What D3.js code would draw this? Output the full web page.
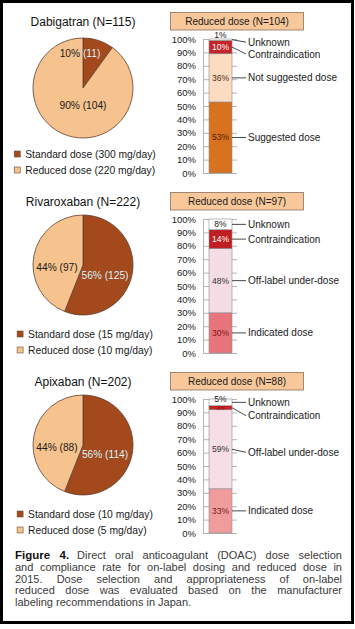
<!DOCTYPE html>
<html><head><meta charset="utf-8">
<script src="https://cdn.jsdelivr.net/npm/d3@7"></script>
<style>
body{margin:0;background:#fff;}
#wrap{position:relative;width:355px;height:629px;overflow:hidden;background:#fff;}
svg{position:absolute;left:0;top:0;}
.cap{position:absolute;left:15px;width:327px;font-family:"Liberation Sans",Arial,sans-serif;font-size:11px;color:#3a3a3a;white-space:nowrap;text-align:justify;text-align-last:justify;line-height:12px;}
.cap.last{text-align-last:left;}
.cap b{color:#111;margin-right:8px;font-size:11.5px;}
</style></head><body><div id="wrap"></div>
<script>
// ---------- DATA ----------
const drugs = ["Dabigatran", "Rivaroxaban", "Apixaban"];
const totalN = [115, 222, 202];
const standardDose = ["300 mg/day", "15 mg/day", "10 mg/day"];
const reducedDose = ["220 mg/day", "10 mg/day", "5 mg/day"];
const standardPct = [10, 56, 56];
const standardCount = [11, 125, 114];
const reducedPct = [90, 44, 44];
const reducedCount = [104, 97, 88];
const reducedN = [104, 97, 88];
const dabigatranCategories = ["Suggested dose", "Not suggested dose", "Contraindication", "Unknown"];
const dabigatranValues = [53, 36, 10, 1];
const rivaroxabanCategories = ["Indicated dose", "Off-label under-dose", "Contraindication", "Unknown"];
const rivaroxabanValues = [30, 48, 14, 8];
const apixabanCategories = ["Indicated dose", "Off-label under-dose", "Contraindication", "Unknown"];
const apixabanValues = [33, 59, 3, 5];
const yTickValues = [0, 10, 20, 30, 40, 50, 60, 70, 80, 90, 100];
const captionLead = "Figure 4.";
const captionLines = [
  "Direct oral anticoagulant (DOAC) dose selection",
  "and compliance rate for on-label dosing and reduced dose in",
  "2015. Dose selection and appropriateness of on-label",
  "reduced dose was evaluated based on the manufacturer",
  "labeling recommendations in Japan."
];

// ---------- STYLE / LAYOUT ----------
const FONT = '"Liberation Sans", Arial, Helvetica, sans-serif';
const pieColors = ["#a3491b", "#f6c38f"];
const barColors = [
  ["#d9721f", "#fbdcc0", "#c3252a", "#ffffff"],
  ["#e8757b", "#f5dde5", "#bf1f23", "#ffffff"],
  ["#f19c9c", "#f5dee6", "#c92220", "#ffffff"]
];
const barLabelColors = [
  ["#4a2205", "#4a3020", "#ffffff", "#222"],
  ["#7a1518", "#333333", "#ffffff", "#222"],
  ["#7a1518", "#333333", "#8a0f10", "#222"]
];
const innerLabelSize = [[8.5, 8.5, 8.5, 8.5], [8.5, 8.5, 8.5, 8.5], [8.5, 8.5, 5.5, 8.5]];
const panelY = [0, 180, 360];
const pieCx = 83, pieR = 50;
const pieCyRel = [88, 85, 85];
const pieLabelOff = [[[-3, -35], [0, 17]], [[22, 10], [-26, 2]], [[22, 9], [-26, 2]]];
const innerLabelDy = [[0, 0, 0, -4.5], [0, 0, 0, 0], [0, 0, 0.5, -3]];
const calloutDy = [[0, 0, 7, 2.5], [0, 0, 0, 0], [0, 3, 8, 0]];
const axisX = 203, barX0 = 209, barX1 = 232, tickX1 = 237, calloutX = 248;

const barCats = [dabigatranCategories, rivaroxabanCategories, apixabanCategories];
const barVals = [dabigatranValues, rivaroxabanValues, apixabanValues];

const wrap = d3.select("#wrap");
const svg = wrap.append("svg").attr("width", 355).attr("height", 629)
  .style("font-family", FONT);
const defs = svg.append("defs");

drugs.forEach((drug, i) => {
  const y0 = panelY[i];
  const g = svg.append("g");

  // title
  g.append("text").attr("x", pieCx).attr("y", y0 + 22).attr("dy", "0.35em")
    .attr("text-anchor", "middle").attr("font-size", 12).attr("fill", "#111")
    .text(`${drug} (N=${totalN[i]})`);

  // pie
  const cy = y0 + pieCyRel[i];
  const pieData = [
    {pct: standardPct[i], n: standardCount[i]},
    {pct: reducedPct[i], n: reducedCount[i]}
  ];
  const arcs = d3.pie().sort(null).value(d => d.pct)(pieData);
  const arcGen = d3.arc().innerRadius(0).outerRadius(pieR);
  const pg = g.append("g").attr("transform", `translate(${pieCx},${cy})`);
  pg.selectAll("path").data(arcs).join("path")
    .attr("d", arcGen).attr("fill", (d, k) => pieColors[k])
    .attr("stroke", "#5e4030").attr("stroke-width", 0.8);
  const clipId = "clipStd" + i;
  defs.append("clipPath").attr("id", clipId).append("path")
    .attr("transform", `translate(${pieCx},${cy})`).attr("d", arcGen(arcs[0]));
  arcs.forEach((a, k) => {
    const [dx, dy] = pieLabelOff[i][k];
    const txt = `${a.data.pct}% (${a.data.n})`;
    g.append("text").attr("x", pieCx + dx).attr("y", cy + dy).attr("dy", "0.35em")
      .attr("text-anchor", "middle").attr("font-size", 10.2).attr("fill", "#1a1a1a").text(txt);
    g.append("text").attr("x", pieCx + dx).attr("y", cy + dy).attr("dy", "0.35em")
      .attr("text-anchor", "middle").attr("font-size", 10.2).attr("fill", "#fff")
      .attr("clip-path", `url(#${clipId})`).text(txt);
  });

  // legend
  const legItems = [
    {c: pieColors[0], t: `Standard dose (${standardDose[i]})`},
    {c: pieColors[1], t: `Reduced dose (${reducedDose[i]})`}
  ];
  const lg = g.append("g");
  const texts = legItems.map((d, k) => lg.append("text").attr("y", y0 + 154 + k * 16).attr("dy", "0.35em")
    .attr("font-size", 10.3).attr("fill", "#1a1a1a").text(d.t));
  const maxW = d3.max(texts, t => t.node().getComputedTextLength());
  const startX = 85 - (11 + maxW) / 2;
  legItems.forEach((d, k) => {
    lg.append("rect").attr("x", startX).attr("y", y0 + 154 + k * 16 - 3)
      .attr("width", 6).attr("height", 6).attr("fill", d.c)
      .attr("stroke", "#6a4a3a").attr("stroke-width", 0.6);
    texts[k].attr("x", startX + 11);
  });

  // bar header
  g.append("rect").attr("x", 170.5).attr("y", y0 + 12.5).attr("width", 133).attr("height", 17.5)
    .attr("fill", "#f8c89a").attr("stroke", "#8a7060").attr("stroke-width", 0.8);
  g.append("text").attr("x", 237).attr("y", y0 + 21.5).attr("dy", "0.35em")
    .attr("text-anchor", "middle").attr("font-size", 10).attr("fill", "#1a1a1a")
    .text(`Reduced dose (N=${reducedN[i]})`);

  // bar axis
  const y = d3.scaleLinear().domain([0, 100]).range([y0 + 173, y0 + 39]);
  const axis = d3.axisLeft(y).tickValues(yTickValues).tickFormat(d => d + "%")
    .tickSizeInner(-(tickX1 - axisX)).tickSizeOuter(0).tickPadding(7);
  const ag = g.append("g").attr("transform", `translate(${axisX},0)`).call(axis);
  ag.select(".domain").attr("stroke", "#b5b5b5");
  ag.selectAll(".tick line").attr("stroke", "#b5b5b5");
  ag.selectAll(".tick text").attr("font-size", 9.5).attr("font-family", FONT).attr("fill", "#1a1a1a");

  // stacked bar
  const vals = barVals[i];
  let cum = 0;
  const segs = vals.map((v, k) => { const s = {v, k, lo: cum, hi: cum + v, cat: barCats[i][k]}; cum += v; return s; });
  g.selectAll("rect.seg").data(segs).join("rect").attr("class", "seg")
    .attr("x", barX0).attr("width", barX1 - barX0)
    .attr("y", d => y(d.hi)).attr("height", d => y(d.lo) - y(d.hi))
    .attr("fill", d => barColors[i][d.k]).attr("stroke", "#8c8c8c").attr("stroke-width", 0.6);
  segs.forEach(s => {
    const my = y((s.lo + s.hi) / 2);
    g.append("text").attr("x", (barX0 + barX1) / 2).attr("y", my + innerLabelDy[i][s.k]).attr("dy", "0.35em")
      .attr("text-anchor", "middle").attr("font-size", innerLabelSize[i][s.k]).attr("fill", barLabelColors[i][s.k])
      .text(s.v + "%");
    const ly = my + calloutDy[i][s.k];
    g.append("line").attr("x1", barX1).attr("y1", my).attr("x2", calloutX - 2).attr("y2", ly)
      .attr("stroke", "#1a1a1a").attr("stroke-width", 0.8);
    g.append("text").attr("x", calloutX).attr("y", ly).attr("dy", "0.35em")
      .attr("font-size", 10).attr("fill", "#1a1a1a").text(s.cat);
  });
});

// border
svg.append("rect").attr("x", 1.5).attr("y", 1.5).attr("width", 351).attr("height", 621)
  .attr("fill", "none").attr("stroke", "#000").attr("stroke-width", 3);

// caption
captionLines.forEach((line, k) => {
  const div = wrap.append("div").attr("class", "cap" + (k === captionLines.length - 1 ? " last" : ""))
    .style("top", (549 + k * 11.8) + "px");
  if (k === 0) { div.append("b").text(captionLead); }
  div.append("span").text(line);
});
</script></body></html>
